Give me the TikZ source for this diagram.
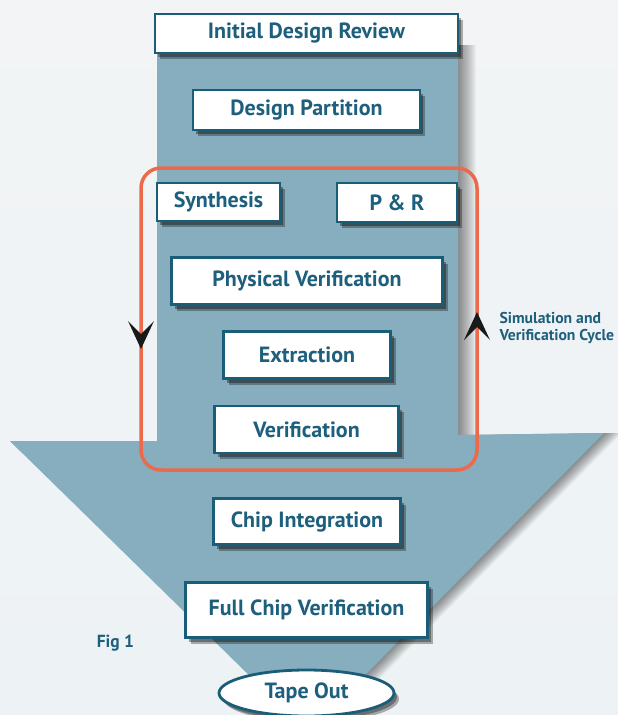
\documentclass[tikz,border=0pt]{standalone}
\usepackage{fontspec}
\setmainfont{PT Sans}
\usetikzlibrary{shadows,shapes.geometric}
\definecolor{bgc}{HTML}{F2F4F5}
\definecolor{arrowc}{HTML}{86AEBE}
\definecolor{boxc}{HTML}{1A5D79}
\definecolor{txtc}{HTML}{1D5F7C}
\definecolor{redc}{HTML}{EA6A4B}
\tikzset{
  stepbox/.style={draw=boxc, line width=2.8pt, fill=white, inner sep=0pt,
    font=\fontsize{22}{24}\selectfont\bfseries, text=txtc,
    drop shadow={shadow xshift=5pt, shadow yshift=-6pt, opacity=.30, fill=black},
    drop shadow={shadow xshift=3pt, shadow yshift=-4pt, opacity=.35, fill=black}},
  endbox/.style={stepbox, ellipse},
  cyclearrow/.style={fill=black!90, draw=none},
  smalltext/.style={font=\fontsize{16}{18}\selectfont\bfseries, text=txtc},
}
\begin{document}
\begin{tikzpicture}[x=1pt,y=-1pt]
\useasboundingbox (0,0) rectangle (618,715);
\begin{scope}
\clip (0,0) rectangle (618,715);
\shade[top color=bgc, bottom color=bgc!70!arrowc!40] (0,0) rectangle (618,715);
% arrow shadow
\foreach \s in {1,2,...,18}{
  \fill[black, opacity=.028] (157+\s,45) -- (458+\s,45) -- (458+\s,435) -- (604+\s,433) -- (308+\s,733) -- (10,441) -- (157,441) -- cycle;
}
% big arrow
\fill[arrowc] (157,40) -- (458,40) -- (458,435) -- (604,433) -- (308,733) -- (10,441) -- (157,441) -- cycle;
\end{scope}
% cycle frame
\draw[redc, line width=3.5pt, rounded corners=20pt] (141,168) rectangle (477,470);
\fill[cyclearrow] (141,349) -- (128,321) -- (141,334) -- (154,321) -- cycle;
\fill[cyclearrow] (477,312) -- (464,340) -- (477,327) -- (490,340) -- cycle;
% boxes
\node[stepbox, minimum width=303pt, minimum height=39pt] (idr) at (306.5,33.5) {Initial Design Review};
\node[stepbox, minimum width=227pt, minimum height=40pt] (dp) at (306.5,110) {Design Partition};
\node[stepbox, minimum width=123pt, minimum height=38pt] (syn) at (218.5,202) {Synthesis};
\node[stepbox, minimum width=120pt, minimum height=39pt] (pr) at (397,202.5) {P \& R};
\node[stepbox, minimum width=271pt, minimum height=47pt] (pv) at (307,281) {Physical Verification};
\node[stepbox, minimum width=167pt, minimum height=47pt] (ext) at (307,355) {Extraction};
\node[stepbox, minimum width=184pt, minimum height=47pt] (ver) at (306.5,429.5) {Verification};
\node[stepbox, minimum width=187pt, minimum height=46pt] (ci) at (307,521.5) {Chip Integration};
\node[stepbox, minimum width=242pt, minimum height=55pt] (fcv) at (306.5,610) {Full Chip Verification};
\node[endbox, minimum width=175pt, minimum height=46pt] (to) at (306.5,693) {Tape Out};
\node[smalltext, anchor=west, align=left, font=\fontsize{15.7}{17}\selectfont\bfseries] (cyc) at (496,328) {Simulation and\\Verification Cycle};
\node[smalltext, font=\fontsize{17.5}{19}\selectfont\bfseries] (fig) at (115.5,643) {Fig 1};
\end{tikzpicture}
\end{document}
